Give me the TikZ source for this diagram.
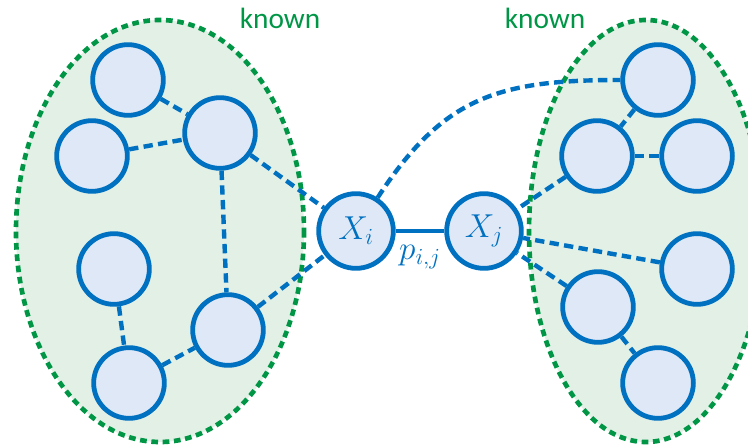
\documentclass[tikz,border=0pt]{standalone}
\usepackage{fontspec}
\setmainfont{Carlito}
\definecolor{edgeblue}{RGB}{0,112,192}
\definecolor{knowngreen}{RGB}{0,150,70}
\definecolor{knownfill}{RGB}{226,240,230}
\definecolor{varfill}{RGB}{223,232,246}
\begin{document}
\begin{tikzpicture}[x=0.75pt,y=-0.75pt]
\tikzstyle{known}   = [draw=knowngreen, fill=knownfill, line width=3.5pt, dash pattern=on 5pt off 3.5pt]
\tikzstyle{tag}     = [text=knowngreen, font=\fontsize{22}{26}\selectfont]
\tikzstyle{var}     = [circle, draw=edgeblue, fill=varfill, line width=3.6pt, minimum size=53pt, inner sep=0pt]
\tikzstyle{var_ij}  = [var, minimum size=56pt, text=edgeblue, font=\fontsize{25}{30}\selectfont]
\tikzstyle{link}    = [draw=edgeblue, line width=3.3pt, dash pattern=on 7pt off 4pt]
\tikzstyle{pair}    = [draw=edgeblue, line width=3.3pt]

\clip (0,0) rectangle (748,448);

% known regions
\draw [known] (160,231) ellipse [x radius=144, y radius=211];
\draw [known] (646,231) ellipse [x radius=117, y radius=211];
\node (tagl) [tag] at (280,18) {known};
\node (tagr) [tag] at (545,18) {known};

% left group
\node (l1) [var] at (128,80)  {};
\node (l2) [var] at (92,156)  {};
\node (l3) [var] at (220,133) {};
\node (l4) [var] at (114,269) {};
\node (l5) [var] at (228,330) {};
\node (l6) [var] at (129,383) {};

% right group
\node (r1) [var] at (658,80)  {};
\node (r2) [var] at (597,156) {};
\node (r3) [var] at (697,156) {};
\node (r4) [var] at (697,269) {};
\node (r5) [var] at (598,307) {};
\node (r6) [var] at (658,383) {};

% the pair
\node (xi) [var_ij] at (356,231) {$X_i$};
\node (xj) [var_ij] at (484,231) {$X_j$};

\draw [pair] (xi) -- node (pij) [below=6pt, text=edgeblue, font=\fontsize{23}{27}\selectfont] {$p_{i,j}$} (xj);

\draw [link] (l1) -- (l3);
\draw [link] (l2) -- (l3);
\draw [link] (l3) -- (l5);
\draw [link] (l4) -- (l6);
\draw [link] (l6) -- (l5);
\draw [link] (l3) -- (xi);
\draw [link] (l5) -- (xi);

\draw [link] (r1) -- (r2);
\draw [link] (r2) -- (r3);
\draw [link] (r2) -- (xj);
\draw [link] (r4) -- (xj);
\draw [link] (r5) -- (xj);
\draw [link] (r5) -- (r6);
\draw [link] (xi) to [out=57, in=180, looseness=1.15] (r1);
\end{tikzpicture}
\end{document}
